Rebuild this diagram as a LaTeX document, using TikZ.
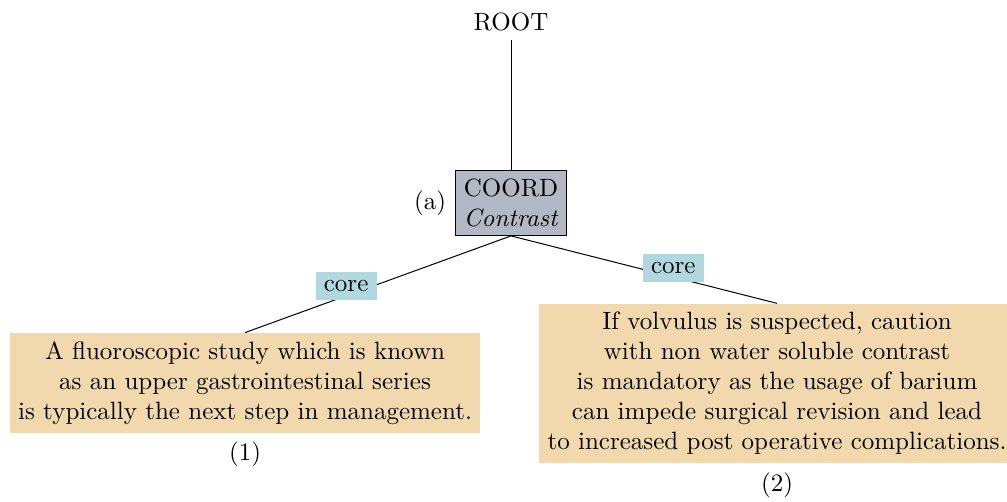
\documentclass[tikz,border=0pt]{standalone}
\usepackage{xcolor}
\usepackage{tikz}
\usetikzlibrary{positioning}
\definecolor{coordgray}{RGB}{178,185,197}
\definecolor{leaftan}{RGB}{242,217,173}
\definecolor{relblue}{RGB}{176,216,222}
\begin{document}
\begin{tikzpicture}[
  top/.style={rectangle, align=center},
  coord/.style={rectangle, draw=black, fill=coordgray, align=center, line width=0.4pt},
  leaf/.style={rectangle, fill=leaftan, align=center},
  rel/.style={rectangle, fill=relblue},
  tline/.style={line width=0.4pt, color=black}]

  \useasboundingbox (0,0) rectangle (14.154,7.056);

  % Root
  \node[top] (root) at (7.183,6.747) {ROOT};

  % Coordination
  \node[coord, label=left:(a)] (coord) at (7.183,4.203) {COORD\\\textit{Contrast}};

  % Leaves
  \node[leaf, label=below:(1)] (left) at (3.444,1.673)
    {A fluoroscopic study which is known\\as an upper gastrointestinal series\\is typically the next step in management.};
  \node[leaf, label=below:(2)] (right) at (10.922,1.666)
    {If volvulus is suspected, caution\\with non water soluble contrast\\is mandatory as the usage of barium\\can impede surgical revision and lead\\to increased post operative complications.};

  % Connections
  \draw[tline] (root) -- (coord);
  \draw[tline] (coord.south) -- node[rel, pos=0.62, yshift=4pt] {core} (left.north);
  \draw[tline] (coord.south) -- node[rel, pos=0.61, yshift=3.5pt] {core} (right.north);

\end{tikzpicture}
\end{document}
